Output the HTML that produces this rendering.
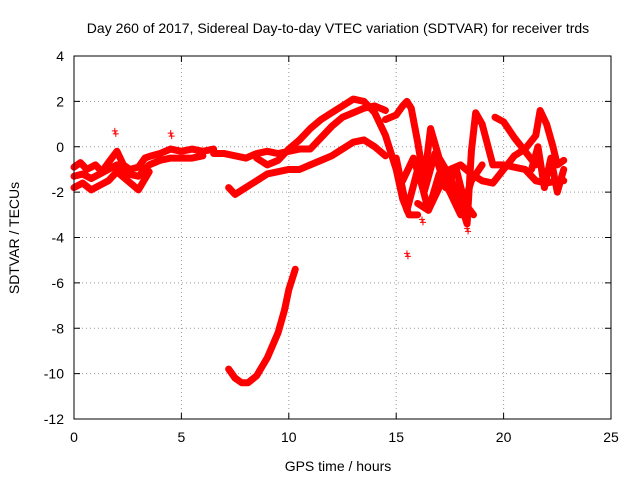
<!DOCTYPE html>
<html><head><meta charset="utf-8"><style>
body{margin:0;background:#fff;}
svg text{font-family:"Liberation Sans",sans-serif;font-size:14px;fill:#000;}
</style></head><body>
<svg id="chart" width="640" height="480">
<text x="338" y="33" text-anchor="middle">Day 260 of 2017, Sidereal Day-to-day VTEC variation (SDTVAR) for receiver trds</text>
<g id="grid"></g><g id="series"></g><g id="axes"></g>
<text x="338" y="471" text-anchor="middle">GPS time / hours</text>
<text transform="translate(19,238) rotate(-90)" text-anchor="middle">SDTVAR / TECUs</text>
</svg>
<script>
const xTicks=[0,5,10,15,20,25];
const yTicks=[4,2,0,-2,-4,-6,-8,-10,-12];
const trackA_t=[0,0.3,0.6,1,1.3,1.6,2,2.3,2.6,3,3.3,3.6,4,4.5,5,5.5,6,6.5];
const trackA_v=[-0.9,-0.7,-1.0,-0.8,-1.1,-0.7,-0.2,-0.8,-1.0,-0.9,-0.5,-0.4,-0.3,-0.1,-0.2,-0.1,-0.2,-0.1];
const trackA2_t=[0,0.4,0.8,1.2,1.6,2,2.5,3,3.5,4,4.5,5,5.5,6];
const trackA2_v=[-1.3,-1.2,-1.4,-1.2,-1.0,-0.8,-1.2,-1.3,-0.8,-0.6,-0.5,-0.5,-0.5,-0.4];
const trackB_t=[0,0.4,0.8,1.2,1.6,2,2.5,3,3.5];
const trackB_v=[-1.8,-1.6,-1.9,-1.7,-1.5,-1.1,-1.5,-1.9,-1.1];
const trackC_t=[6.5,7,7.5,8,8.5,9,9.5,10,10.5,11,11.5,12,12.5,13,13.5,14,14.5];
const trackC_v=[-0.3,-0.3,-0.4,-0.5,-0.3,-0.2,-0.3,-0.2,-0.1,-0.1,0.4,0.9,1.3,1.5,1.7,1.8,1.6];
const trackD_t=[7.2,7.5,8,8.5,9,9.5,10,10.5,11,11.5,12,12.5,13,13.5,14,14.5];
const trackD_v=[-1.8,-2.1,-1.8,-1.5,-1.2,-1.1,-1.0,-1.0,-0.8,-0.6,-0.4,-0.1,0.2,0.3,0.0,-0.4];
const trackE_t=[8.5,9,9.5,10,10.5,11,11.5,12,12.5,13,13.5,14,14.5,15,15.3,15.6,16];
const trackE_v=[-0.5,-0.8,-0.6,-0.1,0.3,0.8,1.2,1.5,1.8,2.1,2.0,1.5,0.5,-1.0,-2.3,-3.0,-3.0];
const trackF_t=[7.2,7.5,7.8,8.1,8.5,9,9.5,9.8,10,10.3];
const trackF_v=[-9.8,-10.2,-10.4,-10.4,-10.1,-9.3,-8.2,-7.2,-6.3,-5.4];
const trackG_t=[14.5,15,15.3,15.5,15.7,16,16.3,16.6,17,17.5,18,18.3,18.5,18.7,19,19.5,20,20.5,21,21.5,22,22.5,22.8];
const trackG_v=[1.2,1.4,1.8,2.0,1.7,0.2,-1.5,0.8,-0.5,-1.3,-2.5,-3.4,-0.2,1.5,1.0,-0.8,-0.8,-0.9,-1.0,-1.5,-1.6,-1.5,-1.5];
const trackH_t=[16,16.5,17,17.5,18,18.5,19,19.5,20,20.5,21,21.5,21.7,22,22.3,22.5,22.8];
const trackH_v=[-2.5,-2.8,-1.8,-1.0,-0.8,-1.2,-1.5,-1.6,-1.0,-0.4,-0.1,0.5,1.6,1.0,0.0,-0.8,-0.6];
const trackI_t=[19.6,20,20.5,21,21.5];
const trackI_v=[1.3,1.1,0.4,-0.2,-0.8];
const trackJ_t=[15,15.5,16,16.5,17,17.5,18,18.5,19];
const trackJ_v=[-0.5,-2.8,-1.0,-2.8,-1.2,-2.0,-3.0,-1.5,-0.8];
const trackK_t=[15.3,15.8,16.3,16.8,17.3,17.8,18.2,18.6];
const trackK_v=[-1.5,-0.5,-2.0,-0.3,-1.8,-1.0,-2.5,-3.0];
const trackL_t=[21.3,21.6,21.9,22.2,22.5,22.8];
const trackL_v=[-1.0,0.0,-1.8,-0.5,-2.0,-1.0];
const outlier_t=[15.5,1.9,4.5,18.3,16.2];
const outlier_v=[-4.7,0.7,0.6,-3.6,-3.2];
const tracks=[[trackA_t,trackA_v],[trackA2_t,trackA2_v],[trackB_t,trackB_v],[trackC_t,trackC_v],[trackD_t,trackD_v],[trackE_t,trackE_v],[trackF_t,trackF_v],[trackG_t,trackG_v],[trackH_t,trackH_v],[trackI_t,trackI_v],[trackJ_t,trackJ_v],[trackK_t,trackK_v],[trackL_t,trackL_v]];
const L=74,R=611,T=56,B=419,NS="http://www.w3.org/2000/svg";
const X=t=>L+(t-0)/25*(R-L), Y=v=>T+(4-v)/16*(B-T);
function mk(tag,a,p){const e=document.createElementNS(NS,tag);for(const k in a)e.setAttribute(k,a[k]);p.appendChild(e);return e;}
const grid=document.getElementById('grid'),axes=document.getElementById('axes'),ser=document.getElementById('series');
mk('rect',{x:L,y:T,width:R-L,height:B-T,fill:'none',stroke:'#000','stroke-width':1},axes);
xTicks.forEach(t=>{const x=X(t);
 if(t>0&&t<25){const g=mk('line',{x1:x,x2:x,y1:T,y2:B,stroke:'#999','stroke-dasharray':'1,3'},grid);}
 mk('line',{x1:x,x2:x,y1:B,y2:B-6,stroke:'#000'},axes);mk('line',{x1:x,x2:x,y1:T,y2:T+6,stroke:'#000'},axes);
 const tx=mk('text',{x:x,y:B+23,'text-anchor':'middle'},axes);tx.textContent=t;
 });
yTicks.forEach(v=>{const y=Y(v);
 if(v<4&&v>-12){const g=mk('line',{x1:L,x2:R,y1:y,y2:y,stroke:'#999','stroke-dasharray':'1,3'},grid);}
 mk('line',{x1:L,x2:L+6,y1:y,y2:y,stroke:'#000'},axes);mk('line',{x1:R,x2:R-6,y1:y,y2:y,stroke:'#000'},axes);
 const tx=mk('text',{x:L-10,y:y+5,'text-anchor':'end'},axes);tx.textContent=v;
 });
function plus(x,y){const p=mk('path',{d:`M${x-3} ${y}h6M${x} ${y-3}v6`,stroke:'#f00','stroke-width':1},ser);
 }
tracks.forEach(([ts,vs])=>{
 const pl=mk('polyline',{points:ts.map((t,i)=>X(t)+','+Y(vs[i])).join(' '),fill:'none',stroke:'#f00','stroke-width':7,'stroke-linejoin':'round','stroke-linecap':'round'},ser);
 
 ts.forEach((t,i)=>plus(X(t),Y(vs[i])));});
outlier_t.forEach((t,i)=>{plus(X(t),Y(outlier_v[i]));plus(X(t)+1,Y(outlier_v[i])+3);});
</script>
</body></html>
